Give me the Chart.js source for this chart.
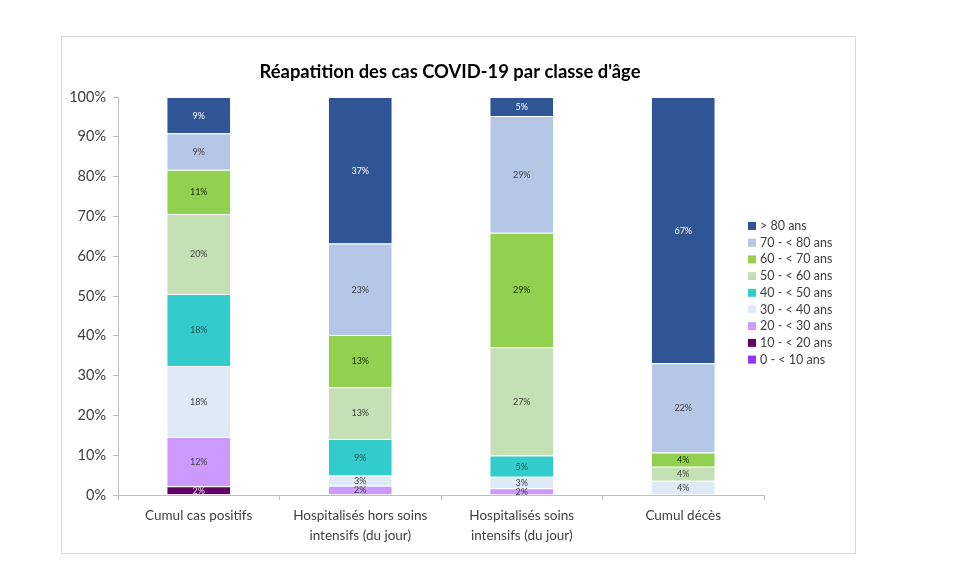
<!DOCTYPE html>
<html>
<head>
<meta charset="utf-8">
<script src="https://cdn.jsdelivr.net/npm/chart.js@4.4.1/dist/chart.umd.min.js"></script>
<style>
html,body{margin:0;padding:0;background:#fff;}
#wrap{position:relative;width:980px;height:569px;}
</style>
</head>
<body>
<div id="wrap"><canvas id="c" width="980" height="569"></canvas></div>
<script>
const titleText = "Réapatition des cas COVID-19 par classe d'âge";
const categories = [
  ["Cumul cas positifs"],
  ["Hospitalisés hors soins", "intensifs (du jour)"],
  ["Hospitalisés soins", "intensifs (du jour)"],
  ["Cumul décès"]
];
const seriesNames = ["0 - < 10 ans","10 - < 20 ans","20 - < 30 ans","30 - < 40 ans","40 - < 50 ans","50 - < 60 ans","60 - < 70 ans","70 - < 80 ans","> 80 ans"];
const age0_10  = [0.2, 0.0, 0.0, 0.0];
const age10_20 = [2.0, 0.2, 0.1, 0.0];
const age20_30 = [12.4, 2.1, 1.6, 0.0];
const age30_40 = [17.8, 2.6, 2.9, 3.6];
const age40_50 = [18.1, 9.2, 5.3, 0.0];
const age50_60 = [20.1, 13.0, 27.2, 3.5];
const age60_70 = [11.1, 13.1, 28.8, 3.6];
const age70_80 = [9.2, 23.0, 29.3, 22.4];
const age80p   = [9.1, 36.8, 4.8, 66.9];
const yTicks = [0,10,20,30,40,50,60,70,80,90,100];

const seriesValues = [age0_10, age10_20, age20_30, age30_40, age40_50, age50_60, age60_70, age70_80, age80p];
const colors = ["#9933FF","#660066","#CC99FF","#DEEBF7","#33CCCC","#C5E0B4","#92D050","#B4C7E7","#2F5597"];
const labelColors = ["#ffffff","#f0d8f0","#404040","#404040","#1f5050","#404040","#1a2a0a","#404040","#ffffff"];

const FONT = "Lato, 'Open Sans', 'Liberation Sans', sans-serif";

const framePlugin = {
  id: 'frame',
  beforeDraw(chart) {
    const ctx = chart.ctx;
    ctx.save();
    ctx.fillStyle = '#fff';
    ctx.fillRect(0,0,chart.width,chart.height);
    ctx.strokeStyle = '#d9d9d9';
    ctx.lineWidth = 1;
    ctx.strokeRect(61.5, 36.5, 794, 517);
    ctx.fillStyle = '#000';
    ctx.font = "bold 18.4px " + FONT;
    ctx.textAlign = 'center';
    ctx.textBaseline = 'middle';
    ctx.fillText(titleText, 450, 72);
    ctx.restore();
  }
};

const valueLabels = {
  id: 'valueLabels',
  afterDatasetsDraw(chart) {
    const ctx = chart.ctx;
    ctx.save();
    ctx.font = "9px " + FONT;
    ctx.textAlign = 'center';
    ctx.textBaseline = 'middle';
    chart.data.datasets.forEach((ds, i) => {
      const meta = chart.getDatasetMeta(i);
      meta.data.forEach((el, j) => {
        const v = ds.data[j];
        if (v < 1) return;
        const p = el.getProps(['x','y','base'], true);
        ctx.fillStyle = labelColors[i];
        ctx.fillText(Math.round(v) + '%', p.x, (p.y + p.base) / 2 + 0.5);
      });
    });
    ctx.restore();
  }
};

const customLegend = {
  id: 'customLegend',
  afterDraw(chart) {
    const ctx = chart.ctx;
    ctx.save();
    ctx.font = "12.5px " + FONT;
    ctx.textBaseline = 'middle';
    ctx.textAlign = 'left';
    const n = chart.data.datasets.length;
    for (let k = 0; k < n; k++) {
      const i = n - 1 - k;
      const ds = chart.data.datasets[i];
      const y = 226 + k * 16.7;
      ctx.fillStyle = ds.backgroundColor;
      ctx.fillRect(748, y - 4, 8, 8);
      ctx.fillStyle = '#404040';
      ctx.fillText(ds.label, 760, y);
    }
    ctx.restore();
  }
};

new Chart(document.getElementById('c'), {
  type: 'bar',
  data: {
    labels: categories,
    datasets: seriesValues.map((vals, i) => ({
      label: seriesNames[i],
      data: vals,
      backgroundColor: colors[i],
      borderColor: 'rgba(255,255,255,0.85)',
      borderWidth: {top: 1, bottom: 0, left: 0, right: 0},
      borderSkipped: false,
      categoryPercentage: 1,
      barPercentage: 0.39
    }))
  },
  options: {
    responsive: false,
    animation: false,
    layout: { padding: { left: 61, right: 216, top: 97, bottom: 16 } },
    plugins: {
      legend: { display: false },
      tooltip: { enabled: false },
      title: { display: false }
    },
    scales: {
      x: {
        stacked: true,
        grid: { drawOnChartArea: false, drawTicks: true, tickLength: 5, color: '#bfbfbf', offset: true },
        border: { color: '#bfbfbf' },
        ticks: { color: '#404040', font: { family: FONT, size: 13.5, lineHeight: 1.45 }, padding: 6, maxRotation: 0, autoSkip: false },
        afterFit(s) { s.height = 58; }
      },
      y: {
        stacked: true,
        min: 0, max: 100,
        afterBuildTicks(s) { s.ticks = yTicks.map(v => ({ value: v })); },
        grid: { drawOnChartArea: false, drawTicks: true, tickLength: 5, color: '#bfbfbf' },
        border: { color: '#bfbfbf' },
        ticks: { color: '#404040', font: { family: FONT, size: 14.5 }, padding: 7, callback: v => v + '%' },
        afterFit(s) { s.width = 57; }
      }
    }
  },
  plugins: [framePlugin, valueLabels, customLegend]
});
</script>
</body>
</html>
